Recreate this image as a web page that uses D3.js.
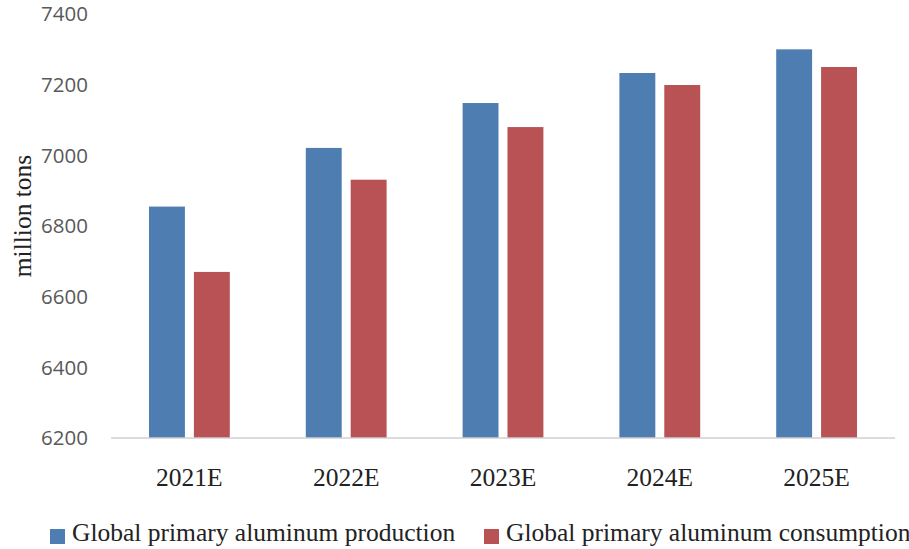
<!DOCTYPE html>
<html><head><meta charset="utf-8">
<script src="https://cdn.jsdelivr.net/npm/d3@7"></script>
<style>body{margin:0;background:#fff}svg{display:block}</style>
</head><body><svg id="c" width="909" height="549"></svg>
<script>
const categories = ["2021E","2022E","2023E","2024E","2025E"];
const production = [6855, 7021, 7148, 7233, 7300];
const consumption = [6670, 6931, 7080, 7199, 7250];
const seriesNames = ["Global primary aluminum production","Global primary aluminum consumption"];
const yTicks = [6200, 6400, 6600, 6800, 7000, 7200, 7400];
const colors = ["#4e7db2", "#b85254"];

const svg = d3.select("#c");
const y = d3.scaleLinear().domain([6200, 7400]).range([438, 14]);
const x = d3.scaleBand().domain(categories).range([111, 895]).paddingInner(0).paddingOuter(0);
const inner = d3.scaleBand().domain([0,1]).range([38, x.bandwidth()-38]).paddingInner(0.2);
const serif = "'Liberation Serif', 'Times New Roman', serif";

// y tick labels
svg.append("g").selectAll("text").data(yTicks).join("text")
  .attr("x", 88).attr("y", d => y(d)).attr("dy", "0.35em")
  .attr("text-anchor", "end")
  .attr("font-family", "'Open Sans', sans-serif").attr("font-size", 20.5)
  .attr("fill", "#595959").text(d => d);

// bars
const series = [production, consumption];
series.forEach((vals, si) => {
  svg.append("g").selectAll("rect").data(vals).join("rect")
    .attr("x", (d, i) => x(categories[i]) + inner(si))
    .attr("width", inner.bandwidth())
    .attr("y", d => y(d))
    .attr("height", d => y(6200) - y(d))
    .attr("fill", colors[si]);
});

// baseline
svg.append("line").attr("x1", 111).attr("x2", 895).attr("y1", y(6200)).attr("y2", y(6200))
  .attr("stroke", "#d0d0d0").attr("stroke-width", 1.5);

// category labels
svg.append("g").selectAll("text").data(categories).join("text")
  .attr("x", d => x(d) + x.bandwidth()/2).attr("y", 486)
  .attr("text-anchor", "middle")
  .attr("font-family", serif).attr("font-size", 25.5)
  .attr("fill", "#222").text(d => d);

// y-axis title
svg.append("text").attr("transform", "translate(31,216) rotate(-90)")
  .attr("text-anchor", "middle")
  .attr("font-family", serif).attr("font-size", 25.5)
  .attr("fill", "#222").text("million tons");

// legend
const legX = [50, 484];
seriesNames.forEach((n, i) => {
  svg.append("rect").attr("x", legX[i]).attr("y", 529).attr("width", 15).attr("height", 15).attr("fill", colors[i]);
  svg.append("text").attr("x", legX[i] + 22).attr("y", 541)
    .attr("font-family", serif).attr("font-size", 25.5)
    .attr("fill", "#222").text(n);
});
</script></body></html>
